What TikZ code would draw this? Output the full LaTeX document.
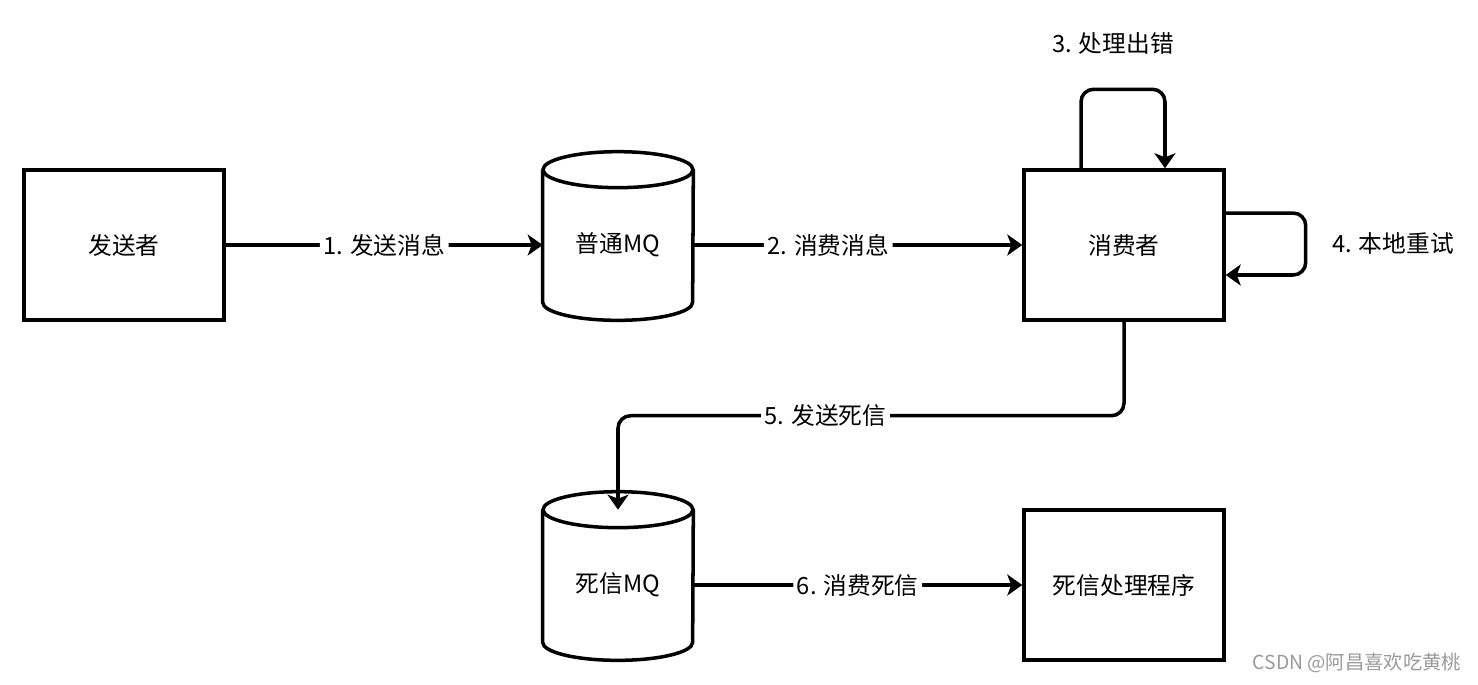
\documentclass[tikz,border=0pt]{standalone}
\usepackage{fontspec}
\setmainfont{Noto Sans CJK SC}
\usetikzlibrary{arrows.meta,calc}

\newcommand{\DrawQueue}[1]{%
  \draw[line width = 2pt] (#1.north) ellipse [x radius = 1.5cm, y radius = 0.36cm];
  \draw[line width = 2pt] (#1.north west) -- ([yshift=0.36cm]#1.south west)
    arc [start angle = 180, end angle = 360, x radius = 1.5cm, y radius = 0.36cm]
    -- (#1.north east);}

\begin{document}
\begin{tikzpicture}[x=0.02cm, y=-0.02cm]

\tikzset{
  every node/.append style = { font = \fontsize{13.5}{16}\selectfont },
  BoxStyle/.style = { rectangle, draw, line width = 2pt,
                      minimum width = 4cm, minimum height = 3cm },
  QueueStyle/.style = { rectangle, minimum width = 3cm, minimum height = 3cm },
  EdgeStyle/.style = { line width = 2pt, rounded corners = 0.25cm,
                       -{Stealth[length=0.3cm, width=0.42cm, inset=0.08cm]} },
  LabelStyle/.style = { fill = white, inner sep = 2pt } }

  \useasboundingbox (0, 0) rectangle (1478, 684);

  \node[BoxStyle] (sender) at (124, 245) {发送者};
  \node[QueueStyle] (mq) at (618, 245) {普通MQ};
  \node[BoxStyle] (consumer) at (1124, 245) {消费者};

  \node[QueueStyle] (dlq) at (618, 585) {死信MQ};
  \node[BoxStyle] (handler) at (1124, 585) {死信处理程序};

  \DrawQueue{mq}
  \DrawQueue{dlq}

  \draw[EdgeStyle] (sender) -- (mq) node[midway, LabelStyle] {1. 发送消息};
  \draw[EdgeStyle] (mq) -- (consumer) node[pos=0.41, LabelStyle] {2. 消费消息};

  \draw[EdgeStyle] ([xshift=-0.86cm]consumer.north) -- ++(0, 1.58cm)
    -| ([xshift=0.82cm]consumer.north);
  \node (errlabel) at (1113, 43) {3. 处理出错};

  \draw[EdgeStyle] ([yshift=0.64cm]consumer.east) -- ++(1.6cm, 0)
    |- ([yshift=-0.6cm]consumer.east);
  \node (retrylabel) at (1393, 243) {4. 本地重试};

  \draw[EdgeStyle] (consumer.south) -- ++(0, -1.88cm)
    -| (dlq.north) node[pos=0.295, LabelStyle] {5. 发送死信};

  \draw[EdgeStyle] (dlq) -- (handler) node[midway, LabelStyle] {6. 消费死信};

  \node[text = black!40, font = \fontsize{11}{13}\selectfont] (mark)
    at (1357, 663) {CSDN @阿昌喜欢吃黄桃};

\end{tikzpicture}
\end{document}
